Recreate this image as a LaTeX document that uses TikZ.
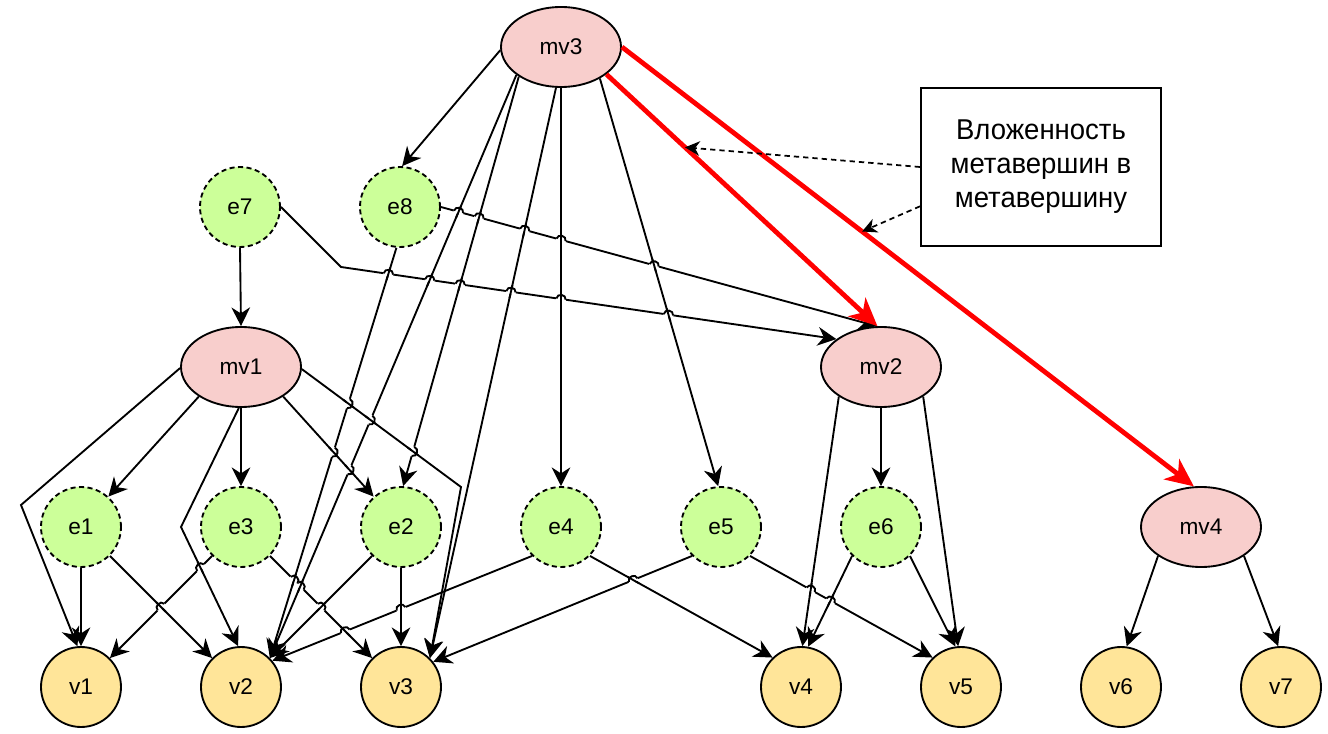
\documentclass[tikz,border=0pt]{standalone}
\usepackage{fontspec}
\setmainfont{Liberation Sans}
\newfontfamily\notefont[FakeStretch=0.96]{Liberation Sans}
\usetikzlibrary{shapes.geometric,arrows.meta,calc}
\definecolor{mvfill}{HTML}{F8CECC}
\definecolor{efill}{HTML}{CCFF99}
\definecolor{vfill}{HTML}{FFE599}
\newcommand\lblfont{\fontsize{17pt}{20pt}\selectfont}
\tikzset{
  mvnode/.style={ellipse, draw, fill=mvfill, line width=1.4pt, minimum width=90pt, minimum height=60pt, inner sep=0pt, font=\lblfont},
  enode/.style={circle, draw, fill=efill, line width=1.4pt, dash pattern=on 3.8pt off 2.6pt, minimum size=60pt, inner sep=0pt, font=\lblfont},
  vnode/.style={circle, draw, fill=vfill, line width=1.4pt, minimum size=60pt, inner sep=0pt, font=\lblfont},
  conn/.style={line width=1.4pt, -{Stealth[length=14pt,width=14pt,inset=4.5pt]}},
  redconn/.style={draw=red, line width=3.6pt, -{Stealth[length=21pt,width=19pt,inset=6pt]}},
  noteconn/.style={line width=1.3pt, dash pattern=on 4pt off 3pt, -{Stealth[length=11pt,width=11pt,inset=3.5pt]}},
  notebox/.style={draw, line width=1.5pt, minimum width=180pt, minimum height=119pt, inner sep=0pt, align=center, font=\notefont\fontsize{21.5pt}{25.5pt}\selectfont},
  plainline/.style={line width=1.4pt}
}
% line jump: #1--#2 is the jumping line, #3--#4 the line jumped over
\newcommand\jumpover[4]{%
  \coordinate (hx) at (intersection of #1--#2 and #3--#4);
  \draw[white, line width=3pt] ($(hx)!3.7pt!(#1)$) -- ($(hx)!3.7pt!(#2)$);
  \draw[plainline] ($(hx)!5pt!(#3)$) -- ($(hx)!5pt!(#4)$);
  \draw[plainline] ($(hx)!3.5pt!(#1)$) to[bend left=90, looseness=1.5] ($(hx)!3.5pt!(#2)$);
}
\begin{document}
\begin{tikzpicture}[x=0.75pt,y=-0.75pt]
\useasboundingbox (0,0) rectangle (1328,734);
% nodes
\node[mvnode] (mv3) at (561,47) {mv3};
\node[mvnode] (mv1) at (241,367) {mv1};
\node[mvnode] (mv2) at (881,367) {mv2};
\node[mvnode] (mv4) at (1201,527) {mv4};
\node[enode] (e7) at (240,207) {e7};
\node[enode] (e8) at (400,207) {e8};
\node[enode] (e1) at (81,527) {e1};
\node[enode] (e3) at (241,527) {e3};
\node[enode] (e2) at (401,527) {e2};
\node[enode] (e4) at (561,527) {e4};
\node[enode] (e5) at (721,527) {e5};
\node[enode] (e6) at (881,527) {e6};
\node[vnode] (v1) at (81,687) {v1};
\node[vnode] (v2) at (241,687) {v2};
\node[vnode] (v3) at (401,687) {v3};
\node[vnode] (v4) at (801,687) {v4};
\node[vnode] (v5) at (961,687) {v5};
\node[vnode] (v6) at (1121,687) {v6};
\node[vnode] (v7) at (1281,687) {v7};
\node[notebox] (note) at (1041,167) {Вложенность\\метавершин в\\метавершину};
% bend points
\coordinate (b1) at (21,505);
\coordinate (b2) at (181,527);
\coordinate (b3) at (461,487);
\coordinate (b4) at (341,267);
% edges from mv3
\draw[conn] (mv3.183) -- (e8.87);
\draw[conn] (mv3.212) -- (v2.45);
\draw[conn] (mv3.215) -- (e2.87);
\draw[conn] (mv3.263) -- (v3.45);
\draw[conn] (mv3.south) -- (e4.north);
\draw[conn] (mv3.321) -- (e5.94);
% e7, e8
\draw[conn] (e7.south) -- (mv1.north);
\draw[conn] (e7.east) -- (b4) -- (mv2.148);
\draw[conn] (e8.east) -- (mv2.96);
\draw[conn] (e8.265) -- (v2.45);
% mv1
\draw[conn] (mv1.181) -- (b1) -- (v1.95);
\draw[conn] (mv1.215) -- (e1.48);
\draw[conn] (mv1.south) -- (e3.north);
\draw[conn] (mv1.267) -- (b2) -- (v2.94);
\draw[conn] (mv1.325) -- (e2.132);
\draw[conn] (mv1.358) -- (b3) -- (v3.45);
% e1, e3, e2
\draw[conn] (e1.south) -- (v1.north);
\draw[conn] (e1.315) -- (v2.135);
\draw[conn] (e3.225) -- (v1.45);
\draw[conn] (e3.315) -- (v3.135);
\draw[conn] (e2.225) -- (v2.45);
\draw[conn] (e2.south) -- (v3.north);
% e4, e5, e6
\draw[conn] (e4.225) -- (v2.40);
\draw[conn] (e4.315) -- (v4.134);
\draw[conn] (e5.225) -- (v3.38);
\draw[conn] (e5.315) -- (v5.134);
\draw[conn] (e6.225) -- (v4.80);
\draw[conn] (e6.315) -- (v5.98);
% mv2
\draw[conn] (mv2.215) -- (v4.88);
\draw[conn] (mv2.south) -- (e6.north);
\draw[conn] (mv2.325) -- (v5.94);
% mv4
\draw[conn] (mv4.214) -- (v6.82);
\draw[conn] (mv4.326) -- (v7.94);
% line jumps
\jumpover{e8.east}{mv2.96}{mv3.212}{v2.45}
\jumpover{e8.east}{mv2.96}{mv3.215}{e2.87}
\jumpover{e8.east}{mv2.96}{mv3.263}{v3.45}
\jumpover{e8.east}{mv2.96}{mv3.south}{e4.north}
\jumpover{e8.east}{mv2.96}{mv3.321}{e5.94}
\jumpover{b4}{mv2.148}{e8.265}{v2.45}
\jumpover{b4}{mv2.148}{mv3.212}{v2.45}
\jumpover{b4}{mv2.148}{mv3.215}{e2.87}
\jumpover{b4}{mv2.148}{mv3.263}{v3.45}
\jumpover{b4}{mv2.148}{mv3.south}{e4.north}
\jumpover{b4}{mv2.148}{mv3.321}{e5.94}
\jumpover{e8.265}{v2.45}{mv1.358}{b3}
\jumpover{e8.265}{v2.45}{mv1.325}{e2.132}
\jumpover{mv3.212}{v2.45}{mv1.358}{b3}
\jumpover{mv3.212}{v2.45}{mv1.325}{e2.132}
\jumpover{mv3.215}{e2.87}{mv1.358}{b3}
\jumpover{v1.45}{e3.225}{e1.315}{v2.135}
\jumpover{v1.45}{e3.225}{b2}{v2.94}
\jumpover{e3.315}{v3.135}{mv3.212}{v2.45}
\jumpover{e3.315}{v3.135}{e8.265}{v2.45}
\jumpover{e3.315}{v3.135}{e2.225}{v2.45}
\jumpover{v2.40}{e4.225}{e3.315}{v3.135}
\jumpover{v2.40}{e4.225}{e2.south}{v3.north}
\jumpover{v3.38}{e5.225}{e4.315}{v4.134}
\jumpover{e5.315}{v5.134}{mv2.215}{v4.88}
\jumpover{e5.315}{v5.134}{e6.225}{v4.80}
% red nesting arrows
\draw[redconn] (mv3.329) -- coordinate[pos=0.29] (r1) (mv2.95);
\draw[redconn] (mv3.east) -- coordinate[pos=0.42] (r2) (mv4.100);
% note arrows
\draw[noteconn] (note.west) -- (r1);
\draw[noteconn] (note.198.4) -- (r2);
\end{tikzpicture}
\end{document}
